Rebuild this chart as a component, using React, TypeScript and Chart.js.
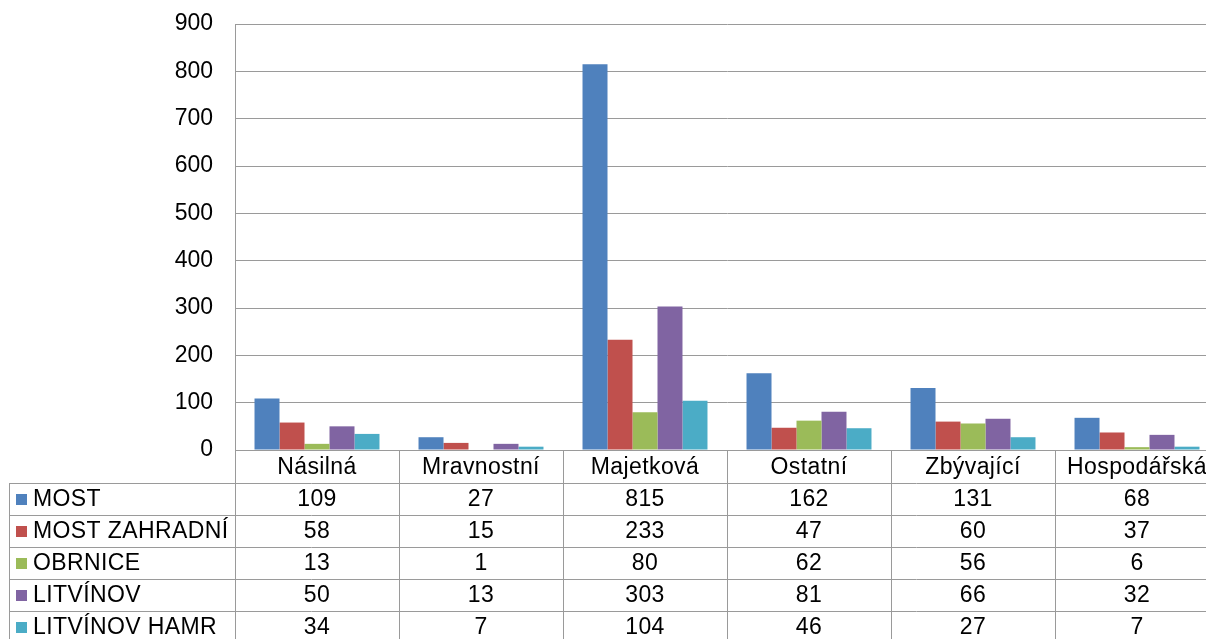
import React, { useEffect, useRef } from "react";
import { Chart, registerables } from "chart.js";

Chart.register(...registerables);

const categories = ["Násilná", "Mravnostní", "Majetková", "Ostatní", "Zbývající", "Hospodářská"];
const seriesNames = ["MOST", "MOST ZAHRADNÍ", "OBRNICE", "LITVÍNOV", "LITVÍNOV HAMR"];
const most = [109, 27, 815, 162, 131, 68];
const mostZahradni = [58, 15, 233, 47, 60, 37];
const obrnice = [13, 1, 80, 62, 56, 6];
const litvinov = [50, 13, 303, 81, 66, 32];
const litvinovHamr = [34, 7, 104, 46, 27, 7];
const seriesValues = [most, mostZahradni, obrnice, litvinov, litvinovHamr];
const seriesColors = ["#4F81BD", "#C0504D", "#9BBB59", "#8064A2", "#4BACC6"];
const yTicks = [0, 100, 200, 300, 400, 500, 600, 700, 800, 900];

const FONT = '"Liberation Sans", Arial, sans-serif';
const FONT_SIZE = 23;
const LINE = "#9a9a9a";
const CANVAS_W = 1222;
const CANVAS_H = 645;
const HEADER_H = 33;
const ROW_H = 32;
const TABLE_LEFT = 9;

const tablePlugin = {
  id: "dataTable",
  afterDraw(chart: any) {
    const { ctx, chartArea } = chart;
    const { left, right, bottom } = chartArea;
    const xs = chart.scales.x;
    const n = categories.length;
    const catW = (right - left) / n;
    const tableBottom = bottom + HEADER_H + ROW_H * seriesNames.length;
    ctx.save();
    ctx.strokeStyle = LINE;
    ctx.lineWidth = 1;
    for (let i = 0; i <= seriesNames.length; i++) {
      const y = Math.round(bottom + HEADER_H + i * ROW_H) + 0.5;
      ctx.beginPath();
      ctx.moveTo(TABLE_LEFT, y);
      ctx.lineTo(right, y);
      ctx.stroke();
    }
    for (let j = 0; j <= n; j++) {
      const x = Math.round(left + j * catW) + 0.5;
      ctx.beginPath();
      ctx.moveTo(x, bottom);
      ctx.lineTo(x, tableBottom);
      ctx.stroke();
    }
    ctx.beginPath();
    ctx.moveTo(TABLE_LEFT + 0.5, bottom + HEADER_H);
    ctx.lineTo(TABLE_LEFT + 0.5, tableBottom);
    ctx.stroke();

    ctx.fillStyle = "#000";
    ctx.font = `${FONT_SIZE}px ${FONT}`;
    try { (ctx as any).letterSpacing = "0.4px"; } catch (e) {}
    ctx.textBaseline = "middle";
    ctx.textAlign = "center";
    categories.forEach((c, i) => {
      ctx.fillText(c, xs.getPixelForValue(i), bottom + HEADER_H / 2 + 1);
    });
    seriesNames.forEach((name, r) => {
      const cy = bottom + HEADER_H + r * ROW_H + ROW_H / 2 + 1;
      ctx.fillStyle = seriesColors[r];
      ctx.fillRect(TABLE_LEFT + 7, cy - 6, 11, 11);
      ctx.fillStyle = "#000";
      ctx.textAlign = "left";
      ctx.fillText(name, TABLE_LEFT + 24, cy);
      ctx.textAlign = "center";
      seriesValues[r].forEach((v, i) => {
        ctx.fillText(String(v), xs.getPixelForValue(i), cy);
      });
    });
    ctx.restore();
  },
};

export default function App() {
  const ref = useRef<HTMLCanvasElement | null>(null);
  useEffect(() => {
    if (!ref.current) return;
    const chart = new Chart(ref.current, {
      type: "bar",
      data: {
        labels: categories,
        datasets: seriesNames.map((name, i) => ({
          label: name,
          data: seriesValues[i],
          backgroundColor: seriesColors[i],
          borderWidth: 0,
          categoryPercentage: 0.762,
          barPercentage: 1,
        })),
      },
      options: {
        animation: false,
        responsive: false,
        maintainAspectRatio: false,
        layout: { padding: { top: 24, bottom: CANVAS_H - 450, left: 0, right: 3 } },
        plugins: { legend: { display: false }, tooltip: { enabled: false } },
        scales: {
          x: {
            display: false,
          },
          y: {
            min: 0,
            max: 900,
            afterFit: (axis: any) => {
              axis.width = 235;
              axis.paddingTop = 0;
              axis.paddingBottom = 0;
            },
            afterBuildTicks: (axis: any) => {
              axis.ticks = yTicks.map((v) => ({ value: v }));
            },
            grid: { color: LINE, lineWidth: 1, drawTicks: false },
            border: { display: true, color: LINE, width: 1 },
            ticks: {
              padding: 22,
              color: "#000",
              font: { family: FONT, size: FONT_SIZE },
            },
          },
        },
      },
      plugins: [tablePlugin],
    });
    return () => chart.destroy();
  }, []);
  return (
    <div style={{ position: "fixed", left: 0, top: 0, width: 1206, height: 639, overflow: "hidden", background: "#fff" }}>
      <canvas ref={ref} width={CANVAS_W} height={CANVAS_H} style={{ width: CANVAS_W, height: CANVAS_H, display: "block" }} />
    </div>
  );
}
